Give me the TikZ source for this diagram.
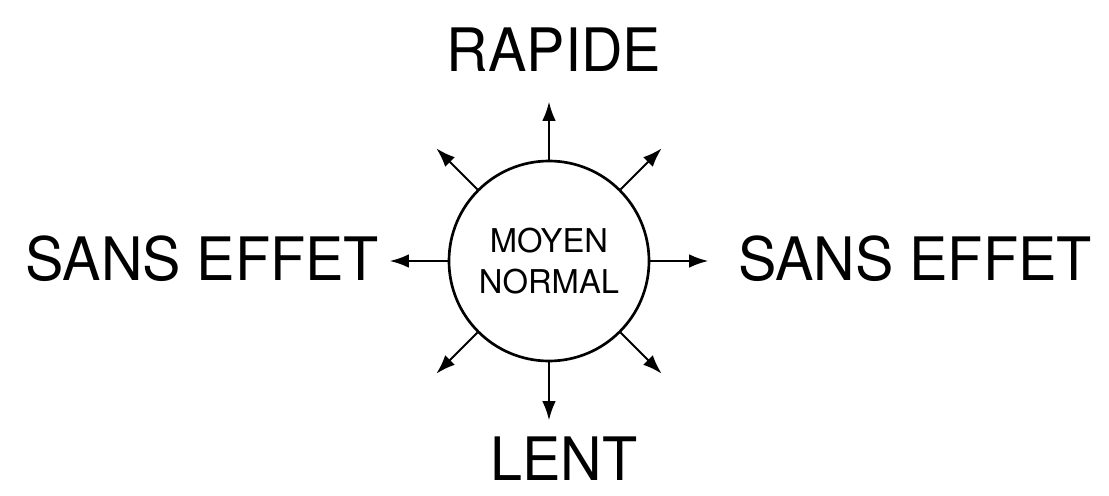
\documentclass[tikz,border=0pt]{standalone}
\usepackage{fontspec}
\setmainfont{TeX Gyre Heros}
\newfontfamily\bigsans[FakeStretch=0.96]{TeX Gyre Heros}
\usetikzlibrary{arrows.meta,positioning,calc}

\begin{document}
\begin{tikzpicture}[
  hub/.style={circle, draw, line width=1.9pt, minimum size=5cm,
              inner sep=0pt, align=center,
              font=\fontsize{23.3}{29.2}\selectfont},
  tag/.style={inner sep=0pt, font=\bigsans\fontsize{42.6}{48}\selectfont},
  arrow/.style={-{Latex[length=0.48cm,width=0.34cm]}, line width=1.5pt}
]
  \useasboundingbox (0,0) rectangle (27.725,12.375);

  % Centre
  \node[hub] (moyen) at (13.725,5.85) {MOYEN\\NORMAL};

  % Labels
  \node[tag] (rapide) at (13.85,11.125) {RAPIDE};
  \node[tag] (lent)   at (14.1,0.9)     {LENT};
  \node[tag] (sansg)  at (5.06,5.91)    {SANS EFFET};
  \node[tag] (sansd)  at (22.875,5.91)  {SANS EFFET};

  % Arrows
  \foreach \a in {0,45,...,315} {
    \path (moyen.\a) ++(\a:1.45) coordinate (tip\a);
    \draw[arrow] (moyen.\a) -- (tip\a);
  }
\end{tikzpicture}
\end{document}
